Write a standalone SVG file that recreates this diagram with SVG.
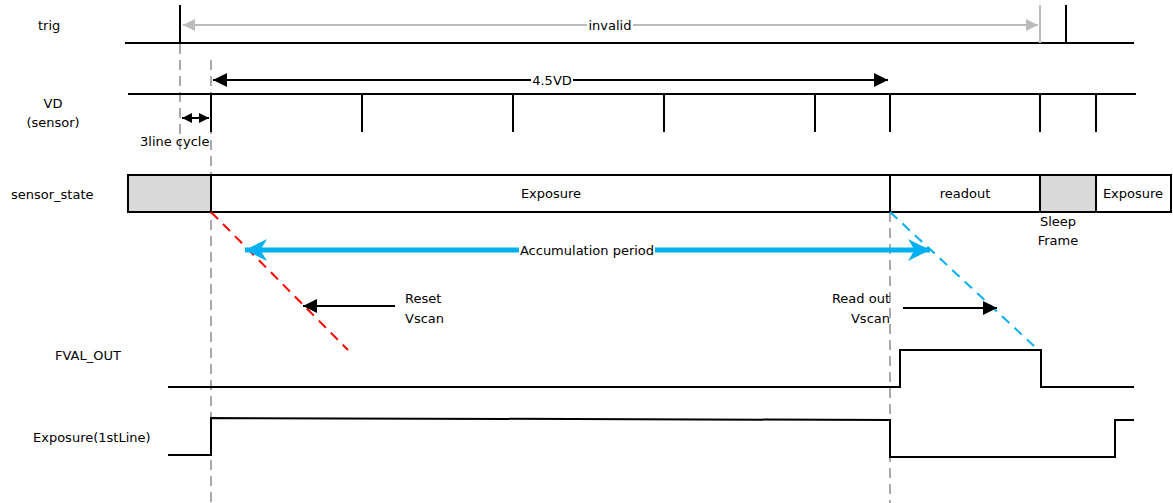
<svg xmlns="http://www.w3.org/2000/svg" width="1173" height="503" viewBox="0 0 1173 503">
<style>
text{font-family:"DejaVu Sans","Noto Sans CJK JP",sans-serif;font-size:13px;fill:#000}
.sig{fill:none;stroke:#000;stroke-width:2}
.tick{stroke:#000;stroke-width:2}
.guide{stroke:#aaa;stroke-width:2;stroke-dasharray:10,6;fill:none}
.box{fill:#fff;stroke:#000;stroke-width:2}
.gbox{fill:#d9d9d9;stroke:#000;stroke-width:2}
.mid{text-anchor:middle}
</style>
<defs>
<marker id="ab" viewBox="0 0 10 10" refX="10" refY="5" markerWidth="10" markerHeight="10" markerUnits="userSpaceOnUse" orient="auto-start-reverse"><path d="M0,0L10,5L0,10z" fill="#000"/></marker>
<marker id="abig" viewBox="0 0 10 10" refX="10" refY="5" markerWidth="16" markerHeight="14" markerUnits="userSpaceOnUse" orient="auto-start-reverse"><path d="M0,0L10,5L0,10z" fill="#000"/></marker>
<marker id="ag" viewBox="0 0 10 10" refX="10" refY="5" markerWidth="16" markerHeight="12" markerUnits="userSpaceOnUse" orient="auto-start-reverse"><path d="M0,0L10,5L0,10z" fill="#bbb"/></marker>
<marker id="ac" viewBox="0 0 10 10" refX="10" refY="5" markerWidth="22" markerHeight="22" markerUnits="userSpaceOnUse" orient="auto-start-reverse"><path d="M0,0L10,5L0,10L3,5z" fill="#00b0f0"/></marker>
</defs>
<rect width="1173" height="503" fill="#fff"/>

<g id="labels">
<text x="38" y="30">trig</text>
<text x="53" y="108" class="mid">VD</text>
<text x="53" y="127" class="mid">(sensor)</text>
<text x="11" y="199">sensor_state</text>
<text x="55" y="360">FVAL_OUT</text>
<text x="33" y="442">Exposure(1stLine)</text>
</g>

<g id="guides">
<line class="guide" x1="180" y1="44" x2="180" y2="155"/>
<line class="guide" x1="211" y1="60" x2="211" y2="503"/>
<line class="guide" x1="890" y1="212" x2="890" y2="503"/>
</g>

<g id="trig">
<line class="sig" x1="125" y1="43" x2="1134" y2="43"/>
<line class="tick" x1="180" y1="5" x2="180" y2="43"/>
<line class="tick" x1="1066" y1="5" x2="1066" y2="43"/>
<line x1="1040" y1="5" x2="1040" y2="43" stroke="#bbb" stroke-width="2"/>
</g>

<g id="vd">
<line class="sig" x1="128" y1="94" x2="1136" y2="94"/>
<g class="tick">
<line x1="211" y1="94" x2="211" y2="132"/>
<line x1="362" y1="94" x2="362" y2="132"/>
<line x1="513" y1="94" x2="513" y2="132"/>
<line x1="664" y1="94" x2="664" y2="132"/>
<line x1="815" y1="94" x2="815" y2="132"/>
<line x1="890" y1="94" x2="890" y2="132"/>
<line x1="1040" y1="94" x2="1040" y2="132"/>
<line x1="1096" y1="94" x2="1096" y2="132"/>
</g>
<text x="140" y="146">3line cycle</text>
</g>

<g id="sensor_state">
<rect class="gbox" x="128" y="175" width="83" height="37"/>
<rect class="box" x="211" y="175" width="679" height="37"/>
<text x="551" y="198" class="mid">Exposure</text>
<rect class="box" x="890" y="175" width="150" height="37"/>
<text x="965" y="198" class="mid">readout</text>
<rect class="gbox" x="1040" y="175" width="56" height="37"/>
<rect class="box" x="1096" y="175" width="75" height="37"/>
<text x="1133" y="198" class="mid">Exposure</text>
<text x="1058" y="226" class="mid">Sleep</text>
<text x="1058" y="245" class="mid">Frame</text>
</g>

<g id="fval_out">
<polyline class="sig" points="168,387 900,387 900,350 1041,350 1041,387 1134,387"/>
</g>

<g id="exposure_1stline">
<polyline class="sig" points="168,455 211,455 211,418 890,420 890,457 1115,457 1115,420 1134,420"/>
</g>

<g id="connectors">
<line x1="183" y1="25" x2="1038" y2="25" stroke="#bbb" stroke-width="2" marker-start="url(#ag)" marker-end="url(#ag)"/>
<rect x="587" y="17" width="46" height="16" fill="#fff"/>
<text x="610" y="30" class="mid">invalid</text>
<line x1="213" y1="80" x2="888" y2="80" stroke="#000" stroke-width="2" marker-start="url(#abig)" marker-end="url(#abig)"/>
<rect x="531" y="72" width="42" height="16" fill="#fff"/>
<text x="552" y="85" class="mid">4.5VD</text>
<line x1="182" y1="118" x2="209" y2="118" stroke="#000" stroke-width="2" marker-start="url(#ab)" marker-end="url(#ab)"/>
<line x1="211" y1="212" x2="348" y2="350" stroke="#f00" stroke-width="2" stroke-dasharray="10,7"/>
<line x1="890" y1="212" x2="1034" y2="346" stroke="#00b0f0" stroke-width="2" stroke-dasharray="10,7"/>
<line x1="245" y1="250" x2="930" y2="250" stroke="#00b0f0" stroke-width="5" marker-start="url(#ac)" marker-end="url(#ac)"/>
<rect x="519" y="241" width="136" height="17" fill="#fff"/>
<text x="587" y="255" class="mid">Accumulation period</text>
<line x1="395" y1="306" x2="303" y2="306" stroke="#000" stroke-width="2" marker-end="url(#abig)"/>
<text x="405" y="303">Reset</text>
<text x="405" y="323">Vscan</text>
<line x1="903" y1="308" x2="997" y2="308" stroke="#000" stroke-width="2" marker-end="url(#abig)"/>
<text x="890" y="303" text-anchor="end">Read out</text>
<text x="890" y="323" text-anchor="end">Vscan</text>
</g>
</svg>
